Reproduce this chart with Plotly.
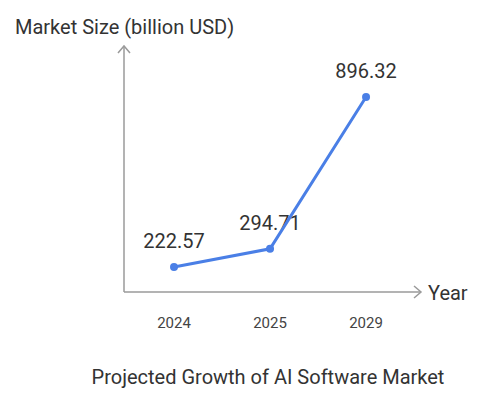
import plotly.graph_objects as go

years = ["2024", "2025", "2029"]
market_size = [222.57, 294.71, 896.32]
label_texts = ["222.57", "294.71", "896.32"]

W, H = 483, 395
OFF = 8  # page body margin
# reference pixel positions of plot area: x 124..420, y 48..292
L, T = 124 - OFF, 48 - OFF
pw, ph = 296, 244
R, B = W - L - pw, H - T - ph

def px(xp):
    return (xp - OFF - L) / pw

def py(yp):
    return (T + ph - (yp - OFF)) / ph

line_color = "#4a7fe6"
axis_color = "#9a9a9a"
text_color = "#333333"

y_range = [123.5, 1090.6]
label_shift_px = 24
d = label_shift_px / ph * (y_range[1] - y_range[0])

fig = go.Figure()
# labels (drawn beneath the line, shifted up via offset axis range)
fig.add_trace(go.Scatter(
    x=years, y=market_size, mode="text", text=label_texts,
    textposition="middle center", textfont=dict(size=20, color=text_color),
    hoverinfo="skip", showlegend=False, yaxis="y",
))
fig.add_trace(go.Scatter(
    x=years, y=market_size, mode="lines+markers",
    line=dict(color=line_color, width=3),
    marker=dict(color=line_color, size=8),
    hoverinfo="x+y", showlegend=False, yaxis="y2",
))

annotations = [
    dict(xref="paper", yref="paper", x=px(13), y=py(27), text="Market Size (billion USD)",
         showarrow=False, xanchor="left", yanchor="middle",
         font=dict(size=20, color=text_color)),
    dict(xref="paper", yref="paper", x=px(426), y=py(293), text="Year",
         showarrow=False, xanchor="left", yanchor="middle",
         font=dict(size=20, color=text_color)),
]

shapes = [
    dict(type="line", xref="paper", yref="paper", x0=0, y0=0, x1=px(421), y1=0,
         line=dict(color=axis_color, width=1.5)),
    dict(type="line", xref="paper", yref="paper", x0=0, y0=0, x1=0, y1=py(46),
         line=dict(color=axis_color, width=1.5)),
    dict(type="path", xref="paper", yref="paper",
         path=f"M {px(414)} {py(286)} L {px(421)} {py(292)} L {px(414)} {py(298)}",
         line=dict(color=axis_color, width=1.5)),
    dict(type="path", xref="paper", yref="paper",
         path=f"M {px(118)} {py(53)} L {px(124)} {py(46)} L {px(130)} {py(53)}",
         line=dict(color=axis_color, width=1.5)),
]

hidden_y = dict(showgrid=False, zeroline=False, showline=False, showticklabels=False, ticks="")

fig.update_layout(
    width=W, height=H,
    margin=dict(l=L, r=R, t=T, b=B),
    paper_bgcolor="white", plot_bgcolor="white",
    font=dict(family="Roboto, sans-serif", color=text_color),
    title=dict(text="Projected Growth of AI Software Market", xref="paper", x=px(268),
               xanchor="center", yref="container", y=1 - (377 - OFF) / H, yanchor="middle",
               font=dict(size=20, color=text_color)),
    xaxis=dict(type="category", range=[-0.521, 2.562], showgrid=False, zeroline=False,
               showline=False, ticks="", ticklabelstandoff=20,
               tickfont=dict(size=15, color="#444444")),
    yaxis=dict(range=[y_range[0] - d, y_range[1] - d], **hidden_y),
    yaxis2=dict(range=y_range, overlaying="y", **hidden_y),
    annotations=annotations, shapes=shapes,
)

fig.write_html("out.html")
